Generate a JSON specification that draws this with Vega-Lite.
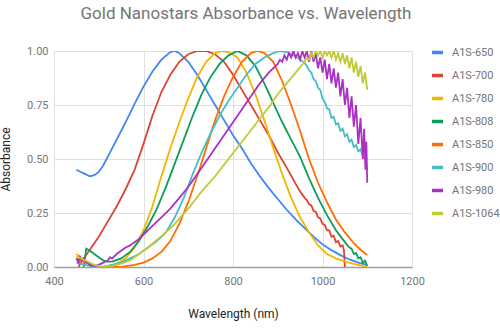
{
  "$schema": "https://vega.github.io/schema/vega-lite/v6.json",
  "width": 358,
  "height": 216,
  "autosize": {"type": "none"},
  "padding": {"left": 54, "top": 51, "right": 88, "bottom": 66},
  "background": "white",
  "title": {"text": "Gold Nanostars Absorbance vs. Wavelength", "fontSize": 17, "font": "Roboto", "fontWeight": "normal", "color": "#757575", "anchor": "middle", "dx": 13, "offset": 22},
  "config": {"view": {"stroke": null}, "font": "Roboto"},
  "data": {"values": [
    {"s":"A1S-650","x":450,"y":0.45},{"s":"A1S-650","x":460,"y":0.44},{"s":"A1S-650","x":470,"y":0.43},{"s":"A1S-650","x":480,"y":0.42},{"s":"A1S-650","x":490,"y":0.425},{"s":"A1S-650","x":500,"y":0.44},{"s":"A1S-650","x":510,"y":0.47},{"s":"A1S-650","x":520,"y":0.51},{"s":"A1S-650","x":540,"y":0.59},{"s":"A1S-650","x":560,"y":0.67},{"s":"A1S-650","x":580,"y":0.755},{"s":"A1S-650","x":600,"y":0.835},{"s":"A1S-650","x":620,"y":0.905},{"s":"A1S-650","x":640,"y":0.96},{"s":"A1S-650","x":660,"y":0.995},{"s":"A1S-650","x":670,"y":1.0},{"s":"A1S-650","x":680,"y":0.99},{"s":"A1S-650","x":700,"y":0.95},{"s":"A1S-650","x":720,"y":0.89},{"s":"A1S-650","x":740,"y":0.82},{"s":"A1S-650","x":760,"y":0.75},{"s":"A1S-650","x":780,"y":0.68},{"s":"A1S-650","x":800,"y":0.61},{"s":"A1S-650","x":820,"y":0.55},{"s":"A1S-650","x":840,"y":0.48},{"s":"A1S-650","x":860,"y":0.42},{"s":"A1S-650","x":880,"y":0.365},{"s":"A1S-650","x":900,"y":0.315},{"s":"A1S-650","x":920,"y":0.265},{"s":"A1S-650","x":940,"y":0.22},{"s":"A1S-650","x":960,"y":0.18},{"s":"A1S-650","x":980,"y":0.14},{"s":"A1S-650","x":1000,"y":0.105},{"s":"A1S-650","x":1020,"y":0.078},{"s":"A1S-650","x":1040,"y":0.055},{"s":"A1S-650","x":1060,"y":0.035},{"s":"A1S-650","x":1080,"y":0.02},{"s":"A1S-650","x":1100,"y":0.01},

    {"s":"A1S-700","x":455,"y":0.0},{"s":"A1S-700","x":460,"y":0.02},{"s":"A1S-700","x":470,"y":0.05},{"s":"A1S-700","x":480,"y":0.08},{"s":"A1S-700","x":500,"y":0.14},{"s":"A1S-700","x":520,"y":0.21},{"s":"A1S-700","x":540,"y":0.28},{"s":"A1S-700","x":560,"y":0.36},{"s":"A1S-700","x":580,"y":0.45},{"s":"A1S-700","x":600,"y":0.57},{"s":"A1S-700","x":620,"y":0.70},{"s":"A1S-700","x":640,"y":0.81},{"s":"A1S-700","x":660,"y":0.89},{"s":"A1S-700","x":680,"y":0.95},{"s":"A1S-700","x":700,"y":0.985},{"s":"A1S-700","x":720,"y":1.0},{"s":"A1S-700","x":740,"y":1.0},{"s":"A1S-700","x":760,"y":0.985},{"s":"A1S-700","x":780,"y":0.95},{"s":"A1S-700","x":800,"y":0.89},{"s":"A1S-700","x":820,"y":0.82},{"s":"A1S-700","x":840,"y":0.75},{"s":"A1S-700","x":860,"y":0.68},{"s":"A1S-700","x":880,"y":0.61},{"s":"A1S-700","x":900,"y":0.53},{"s":"A1S-700","x":920,"y":0.46},{"s":"A1S-700","x":940,"y":0.385},{"s":"A1S-700","x":950,"y":0.35},{"s":"A1S-700","x":960,"y":0.32},{"s":"A1S-700","x":965,"y":0.31},{"s":"A1S-700","x":970,"y":0.29},{"s":"A1S-700","x":975,"y":0.285},{"s":"A1S-700","x":980,"y":0.26},{"s":"A1S-700","x":985,"y":0.255},{"s":"A1S-700","x":990,"y":0.23},{"s":"A1S-700","x":995,"y":0.225},{"s":"A1S-700","x":1000,"y":0.2},{"s":"A1S-700","x":1005,"y":0.195},{"s":"A1S-700","x":1010,"y":0.17},{"s":"A1S-700","x":1015,"y":0.17},{"s":"A1S-700","x":1020,"y":0.14},{"s":"A1S-700","x":1025,"y":0.145},{"s":"A1S-700","x":1030,"y":0.115},{"s":"A1S-700","x":1035,"y":0.12},{"s":"A1S-700","x":1040,"y":0.095},{"s":"A1S-700","x":1045,"y":0.1},{"s":"A1S-700","x":1048,"y":0.075},{"s":"A1S-700","x":1050,"y":0.0},

    {"s":"A1S-780","x":450,"y":0.06},{"s":"A1S-780","x":460,"y":0.045},{"s":"A1S-780","x":470,"y":0.03},{"s":"A1S-780","x":480,"y":0.015},{"s":"A1S-780","x":490,"y":0.005},{"s":"A1S-780","x":500,"y":0.0},{"s":"A1S-780","x":520,"y":0.005},{"s":"A1S-780","x":540,"y":0.015},{"s":"A1S-780","x":560,"y":0.04},{"s":"A1S-780","x":580,"y":0.09},{"s":"A1S-780","x":600,"y":0.17},{"s":"A1S-780","x":620,"y":0.28},{"s":"A1S-780","x":640,"y":0.42},{"s":"A1S-780","x":660,"y":0.55},{"s":"A1S-780","x":680,"y":0.67},{"s":"A1S-780","x":700,"y":0.78},{"s":"A1S-780","x":720,"y":0.88},{"s":"A1S-780","x":740,"y":0.95},{"s":"A1S-780","x":760,"y":0.99},{"s":"A1S-780","x":775,"y":1.0},{"s":"A1S-780","x":790,"y":0.995},{"s":"A1S-780","x":810,"y":0.97},{"s":"A1S-780","x":830,"y":0.9},{"s":"A1S-780","x":850,"y":0.8},{"s":"A1S-780","x":870,"y":0.68},{"s":"A1S-780","x":890,"y":0.55},{"s":"A1S-780","x":910,"y":0.43},{"s":"A1S-780","x":930,"y":0.32},{"s":"A1S-780","x":950,"y":0.23},{"s":"A1S-780","x":970,"y":0.16},{"s":"A1S-780","x":990,"y":0.1},{"s":"A1S-780","x":1010,"y":0.06},{"s":"A1S-780","x":1030,"y":0.04},{"s":"A1S-780","x":1050,"y":0.025},{"s":"A1S-780","x":1070,"y":0.015},{"s":"A1S-780","x":1090,"y":0.005},{"s":"A1S-780","x":1100,"y":0.0},

    {"s":"A1S-808","x":466,"y":0.0},{"s":"A1S-808","x":468,"y":0.02},{"s":"A1S-808","x":472,"y":0.085},{"s":"A1S-808","x":480,"y":0.075},{"s":"A1S-808","x":490,"y":0.06},{"s":"A1S-808","x":500,"y":0.045},{"s":"A1S-808","x":510,"y":0.03},{"s":"A1S-808","x":520,"y":0.025},{"s":"A1S-808","x":530,"y":0.025},{"s":"A1S-808","x":550,"y":0.04},{"s":"A1S-808","x":570,"y":0.07},{"s":"A1S-808","x":590,"y":0.12},{"s":"A1S-808","x":610,"y":0.19},{"s":"A1S-808","x":630,"y":0.27},{"s":"A1S-808","x":650,"y":0.37},{"s":"A1S-808","x":670,"y":0.48},{"s":"A1S-808","x":690,"y":0.59},{"s":"A1S-808","x":710,"y":0.7},{"s":"A1S-808","x":730,"y":0.8},{"s":"A1S-808","x":750,"y":0.88},{"s":"A1S-808","x":770,"y":0.94},{"s":"A1S-808","x":790,"y":0.98},{"s":"A1S-808","x":810,"y":1.0},{"s":"A1S-808","x":830,"y":0.98},{"s":"A1S-808","x":850,"y":0.93},{"s":"A1S-808","x":870,"y":0.85},{"s":"A1S-808","x":890,"y":0.76},{"s":"A1S-808","x":910,"y":0.67},{"s":"A1S-808","x":930,"y":0.59},{"s":"A1S-808","x":950,"y":0.51},{"s":"A1S-808","x":970,"y":0.41},{"s":"A1S-808","x":990,"y":0.32},{"s":"A1S-808","x":1010,"y":0.24},{"s":"A1S-808","x":1030,"y":0.17},{"s":"A1S-808","x":1050,"y":0.115},{"s":"A1S-808","x":1060,"y":0.09},{"s":"A1S-808","x":1065,"y":0.085},{"s":"A1S-808","x":1070,"y":0.06},{"s":"A1S-808","x":1075,"y":0.065},{"s":"A1S-808","x":1080,"y":0.04},{"s":"A1S-808","x":1085,"y":0.045},{"s":"A1S-808","x":1090,"y":0.02},{"s":"A1S-808","x":1095,"y":0.03},{"s":"A1S-808","x":1100,"y":0.005},

    {"s":"A1S-850","x":450,"y":0.04},{"s":"A1S-850","x":470,"y":0.02},{"s":"A1S-850","x":490,"y":0.005},{"s":"A1S-850","x":500,"y":0.0},{"s":"A1S-850","x":550,"y":0.0},{"s":"A1S-850","x":580,"y":0.01},{"s":"A1S-850","x":600,"y":0.02},{"s":"A1S-850","x":620,"y":0.04},{"s":"A1S-850","x":640,"y":0.07},{"s":"A1S-850","x":660,"y":0.12},{"s":"A1S-850","x":680,"y":0.2},{"s":"A1S-850","x":700,"y":0.3},{"s":"A1S-850","x":720,"y":0.42},{"s":"A1S-850","x":740,"y":0.55},{"s":"A1S-850","x":760,"y":0.68},{"s":"A1S-850","x":780,"y":0.79},{"s":"A1S-850","x":800,"y":0.88},{"s":"A1S-850","x":820,"y":0.95},{"s":"A1S-850","x":840,"y":0.99},{"s":"A1S-850","x":855,"y":1.0},{"s":"A1S-850","x":870,"y":0.99},{"s":"A1S-850","x":890,"y":0.95},{"s":"A1S-850","x":910,"y":0.86},{"s":"A1S-850","x":930,"y":0.75},{"s":"A1S-850","x":950,"y":0.63},{"s":"A1S-850","x":970,"y":0.5},{"s":"A1S-850","x":990,"y":0.39},{"s":"A1S-850","x":1010,"y":0.3},{"s":"A1S-850","x":1030,"y":0.22},{"s":"A1S-850","x":1050,"y":0.16},{"s":"A1S-850","x":1070,"y":0.11},{"s":"A1S-850","x":1085,"y":0.08},{"s":"A1S-850","x":1100,"y":0.055},

    {"s":"A1S-900","x":450,"y":0.02},{"s":"A1S-900","x":470,"y":0.01},{"s":"A1S-900","x":490,"y":0.0},{"s":"A1S-900","x":510,"y":0.0},{"s":"A1S-900","x":530,"y":0.01},{"s":"A1S-900","x":550,"y":0.02},{"s":"A1S-900","x":570,"y":0.04},{"s":"A1S-900","x":590,"y":0.06},{"s":"A1S-900","x":610,"y":0.09},{"s":"A1S-900","x":630,"y":0.12},{"s":"A1S-900","x":650,"y":0.16},{"s":"A1S-900","x":670,"y":0.23},{"s":"A1S-900","x":690,"y":0.32},{"s":"A1S-900","x":710,"y":0.43},{"s":"A1S-900","x":730,"y":0.53},{"s":"A1S-900","x":750,"y":0.62},{"s":"A1S-900","x":770,"y":0.7},{"s":"A1S-900","x":790,"y":0.77},{"s":"A1S-900","x":810,"y":0.83},{"s":"A1S-900","x":830,"y":0.89},{"s":"A1S-900","x":850,"y":0.94},{"s":"A1S-900","x":870,"y":0.97},{"s":"A1S-900","x":890,"y":0.99},{"s":"A1S-900","x":905,"y":1.0},{"s":"A1S-900","x":920,"y":0.995},{"s":"A1S-900","x":940,"y":0.975},{"s":"A1S-900","x":950,"y":0.96},{"s":"A1S-900","x":960,"y":0.945},{"s":"A1S-900","x":965,"y":0.93},{"s":"A1S-900","x":970,"y":0.91},{"s":"A1S-900","x":975,"y":0.9},{"s":"A1S-900","x":980,"y":0.87},{"s":"A1S-900","x":985,"y":0.86},{"s":"A1S-900","x":990,"y":0.83},{"s":"A1S-900","x":995,"y":0.82},{"s":"A1S-900","x":1000,"y":0.78},{"s":"A1S-900","x":1005,"y":0.765},{"s":"A1S-900","x":1010,"y":0.735},{"s":"A1S-900","x":1015,"y":0.73},{"s":"A1S-900","x":1020,"y":0.69},{"s":"A1S-900","x":1025,"y":0.695},{"s":"A1S-900","x":1030,"y":0.66},{"s":"A1S-900","x":1035,"y":0.665},{"s":"A1S-900","x":1040,"y":0.63},{"s":"A1S-900","x":1045,"y":0.64},{"s":"A1S-900","x":1050,"y":0.605},{"s":"A1S-900","x":1055,"y":0.615},{"s":"A1S-900","x":1060,"y":0.58},{"s":"A1S-900","x":1065,"y":0.59},{"s":"A1S-900","x":1070,"y":0.555},{"s":"A1S-900","x":1075,"y":0.565},{"s":"A1S-900","x":1080,"y":0.535},{"s":"A1S-900","x":1085,"y":0.545},{"s":"A1S-900","x":1090,"y":0.515},{"s":"A1S-900","x":1095,"y":0.5},{"s":"A1S-900","x":1100,"y":0.45},

    {"s":"A1S-980","x":450,"y":0.04},{"s":"A1S-980","x":455,"y":0.02},{"s":"A1S-980","x":458,"y":0.045},{"s":"A1S-980","x":462,"y":0.03},{"s":"A1S-980","x":466,"y":0.04},{"s":"A1S-980","x":470,"y":0.025},{"s":"A1S-980","x":475,"y":0.02},{"s":"A1S-980","x":480,"y":0.01},{"s":"A1S-980","x":490,"y":0.005},{"s":"A1S-980","x":500,"y":0.01},{"s":"A1S-980","x":510,"y":0.02},{"s":"A1S-980","x":520,"y":0.03},{"s":"A1S-980","x":525,"y":0.045},{"s":"A1S-980","x":530,"y":0.04},{"s":"A1S-980","x":540,"y":0.06},{"s":"A1S-980","x":550,"y":0.075},{"s":"A1S-980","x":560,"y":0.09},{"s":"A1S-980","x":570,"y":0.1},{"s":"A1S-980","x":580,"y":0.115},{"s":"A1S-980","x":590,"y":0.13},{"s":"A1S-980","x":600,"y":0.15},{"s":"A1S-980","x":620,"y":0.19},{"s":"A1S-980","x":640,"y":0.23},{"s":"A1S-980","x":660,"y":0.27},{"s":"A1S-980","x":680,"y":0.32},{"s":"A1S-980","x":700,"y":0.37},{"s":"A1S-980","x":720,"y":0.43},{"s":"A1S-980","x":740,"y":0.49},{"s":"A1S-980","x":760,"y":0.55},{"s":"A1S-980","x":780,"y":0.61},{"s":"A1S-980","x":800,"y":0.67},{"s":"A1S-980","x":820,"y":0.73},{"s":"A1S-980","x":840,"y":0.79},{"s":"A1S-980","x":860,"y":0.85},{"s":"A1S-980","x":880,"y":0.9},{"s":"A1S-980","x":900,"y":0.94},{"s":"A1S-980","x":905,"y":0.96},{"s":"A1S-980","x":910,"y":0.95},{"s":"A1S-980","x":915,"y":0.98},{"s":"A1S-980","x":920,"y":0.96},{"s":"A1S-980","x":925,"y":0.99},{"s":"A1S-980","x":930,"y":0.97},{"s":"A1S-980","x":935,"y":1.0},{"s":"A1S-980","x":940,"y":0.97},{"s":"A1S-980","x":945,"y":0.99},{"s":"A1S-980","x":950,"y":0.96},{"s":"A1S-980","x":955,"y":1.0},{"s":"A1S-980","x":960,"y":0.97},{"s":"A1S-980","x":965,"y":1.0},{"s":"A1S-980","x":970,"y":0.95},{"s":"A1S-980","x":975,"y":1.0},{"s":"A1S-980","x":980,"y":0.95},{"s":"A1S-980","x":985,"y":0.99},{"s":"A1S-980","x":990,"y":0.92},{"s":"A1S-980","x":995,"y":0.97},{"s":"A1S-980","x":1000,"y":0.9},{"s":"A1S-980","x":1005,"y":0.96},{"s":"A1S-980","x":1010,"y":0.87},{"s":"A1S-980","x":1015,"y":0.94},{"s":"A1S-980","x":1020,"y":0.85},{"s":"A1S-980","x":1025,"y":0.92},{"s":"A1S-980","x":1030,"y":0.83},{"s":"A1S-980","x":1035,"y":0.9},{"s":"A1S-980","x":1040,"y":0.79},{"s":"A1S-980","x":1045,"y":0.87},{"s":"A1S-980","x":1050,"y":0.75},{"s":"A1S-980","x":1055,"y":0.83},{"s":"A1S-980","x":1060,"y":0.69},{"s":"A1S-980","x":1065,"y":0.79},{"s":"A1S-980","x":1070,"y":0.65},{"s":"A1S-980","x":1075,"y":0.75},{"s":"A1S-980","x":1080,"y":0.57},{"s":"A1S-980","x":1085,"y":0.69},{"s":"A1S-980","x":1090,"y":0.5},{"s":"A1S-980","x":1093,"y":0.64},{"s":"A1S-980","x":1096,"y":0.45},{"s":"A1S-980","x":1098,"y":0.58},{"s":"A1S-980","x":1100,"y":0.39},

    {"s":"A1S-1064","x":450,"y":0.05},{"s":"A1S-1064","x":470,"y":0.03},{"s":"A1S-1064","x":490,"y":0.01},{"s":"A1S-1064","x":510,"y":0.0},{"s":"A1S-1064","x":530,"y":0.005},{"s":"A1S-1064","x":550,"y":0.015},{"s":"A1S-1064","x":570,"y":0.03},{"s":"A1S-1064","x":590,"y":0.06},{"s":"A1S-1064","x":610,"y":0.09},{"s":"A1S-1064","x":630,"y":0.125},{"s":"A1S-1064","x":650,"y":0.16},{"s":"A1S-1064","x":670,"y":0.2},{"s":"A1S-1064","x":700,"y":0.27},{"s":"A1S-1064","x":730,"y":0.35},{"s":"A1S-1064","x":760,"y":0.42},{"s":"A1S-1064","x":790,"y":0.5},{"s":"A1S-1064","x":820,"y":0.58},{"s":"A1S-1064","x":850,"y":0.66},{"s":"A1S-1064","x":880,"y":0.74},{"s":"A1S-1064","x":900,"y":0.8},{"s":"A1S-1064","x":920,"y":0.85},{"s":"A1S-1064","x":940,"y":0.9},{"s":"A1S-1064","x":960,"y":0.95},{"s":"A1S-1064","x":965,"y":0.97},{"s":"A1S-1064","x":970,"y":0.96},{"s":"A1S-1064","x":975,"y":0.99},{"s":"A1S-1064","x":980,"y":0.97},{"s":"A1S-1064","x":985,"y":1.0},{"s":"A1S-1064","x":990,"y":0.98},{"s":"A1S-1064","x":995,"y":1.0},{"s":"A1S-1064","x":1000,"y":0.97},{"s":"A1S-1064","x":1005,"y":1.0},{"s":"A1S-1064","x":1010,"y":0.98},{"s":"A1S-1064","x":1015,"y":1.0},{"s":"A1S-1064","x":1020,"y":0.97},{"s":"A1S-1064","x":1025,"y":1.0},{"s":"A1S-1064","x":1030,"y":0.96},{"s":"A1S-1064","x":1035,"y":0.99},{"s":"A1S-1064","x":1040,"y":0.95},{"s":"A1S-1064","x":1045,"y":0.99},{"s":"A1S-1064","x":1050,"y":0.94},{"s":"A1S-1064","x":1055,"y":0.98},{"s":"A1S-1064","x":1060,"y":0.92},{"s":"A1S-1064","x":1065,"y":0.97},{"s":"A1S-1064","x":1070,"y":0.9},{"s":"A1S-1064","x":1075,"y":0.95},{"s":"A1S-1064","x":1080,"y":0.88},{"s":"A1S-1064","x":1085,"y":0.93},{"s":"A1S-1064","x":1090,"y":0.85},{"s":"A1S-1064","x":1095,"y":0.9},{"s":"A1S-1064","x":1100,"y":0.82}
  ]},
  "mark": {"type": "line", "strokeWidth": 1.8, "clip": true},
  "encoding": {
    "x": {"field": "x", "type": "quantitative", "scale": {"domain": [400, 1200], "nice": false, "zero": false},
      "axis": {"title": "Wavelength (nm)", "values": [400, 600, 800, 1000, 1200], "format": "d", "labelFlush": false, "ticks": false, "domainColor": "#9e9e9e", "domainWidth": 1.5, "gridColor": "#e0e0e0", "labelColor": "#757575", "labelFontSize": 11, "labelPadding": 8, "titleColor": "#222222", "titleFontSize": 12, "titleFontWeight": "normal", "titlePadding": 22}},
    "y": {"field": "y", "type": "quantitative", "scale": {"domain": [0, 1], "nice": false},
      "axis": {"title": "Absorbance", "values": [0, 0.25, 0.5, 0.75, 1], "format": ".2f", "ticks": false, "domain": false, "gridColor": "#e0e0e0", "labelColor": "#757575", "labelFontSize": 11, "labelPadding": 6, "titleColor": "#222222", "titleFontSize": 12, "titleFontWeight": "normal", "titlePadding": 14}},
    "color": {"field": "s", "type": "nominal",
      "scale": {"domain": ["A1S-650", "A1S-700", "A1S-780", "A1S-808", "A1S-850", "A1S-900", "A1S-980", "A1S-1064"],
                "range": ["#4285F4", "#DB4437", "#F4B400", "#0F9D58", "#FF6D00", "#46BDC6", "#AB30C4", "#C0CA33"]},
      "legend": {"title": null, "orient": "none", "legendX": 376, "legendY": -6, "symbolType": "stroke", "symbolSize": 121, "symbolStrokeWidth": 3.5, "labelColor": "#757575", "labelFontSize": 11, "labelOffset": 7, "rowPadding": 8, "padding": 0}}
  }
}
